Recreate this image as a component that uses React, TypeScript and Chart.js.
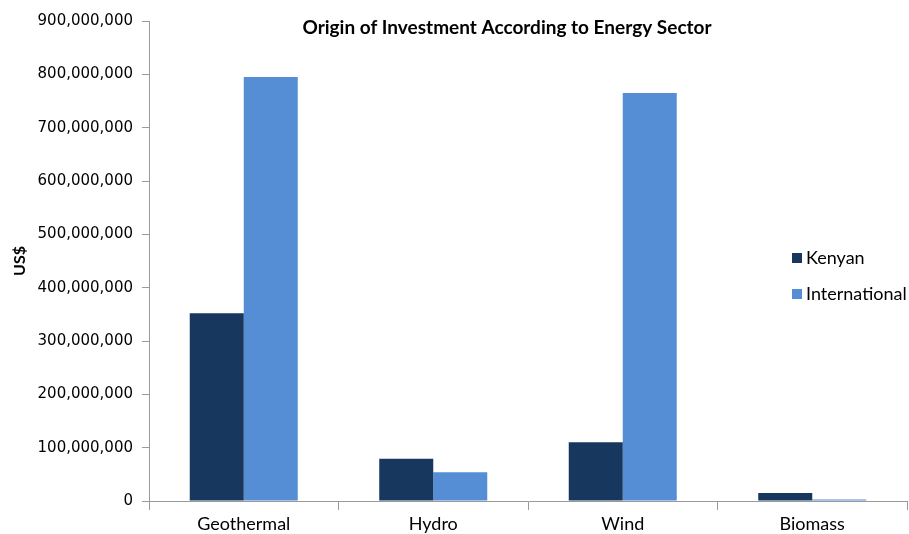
import React, { useEffect, useRef } from "react";
import { Chart, registerables } from "chart.js";

Chart.register(...registerables);

const categories = ["Geothermal", "Hydro", "Wind", "Biomass"];
const seriesNames = ["Kenyan", "International"];
const kenyan = [352000000, 79000000, 110000000, 15000000];
const international = [795000000, 54000000, 765000000, 3000000];
const seriesColors = ["#17375E", "#558ED5"];
const yMin = 0;
const yMax = 900000000;
const yStep = 100000000;
const titleText = "Origin of Investment According to Energy Sector";
const yTitle = "US$";

const titlePlugin = {
  id: "customTitle",
  afterDraw(chart: any) {
    const ctx = chart.ctx;
    ctx.save();
    ctx.font = "bold 19px Lato";
    ctx.fillStyle = "#000";
    ctx.textAlign = "center";
    ctx.textBaseline = "middle";
    ctx.fillText(titleText, 507, 28);
    ctx.restore();
  },
};

const legendPlugin = {
  id: "customLegend",
  afterDraw(chart: any) {
    const ctx = chart.ctx;
    ctx.save();
    ctx.font = "18px Lato";
    ctx.textBaseline = "middle";
    ctx.textAlign = "left";
    chart.data.datasets.forEach((ds: any, i: number) => {
      const cy = 258 + i * 36;
      ctx.fillStyle = ds.backgroundColor;
      ctx.fillRect(792, cy - 5, 10, 10);
      ctx.fillStyle = "#000";
      ctx.fillText(ds.label, 806, cy);
    });
    ctx.restore();
  },
};

export default function App() {
  const ref = useRef<HTMLCanvasElement>(null);
  useEffect(() => {
    if (!ref.current) return;
    const chart = new Chart(ref.current, {
      type: "bar",
      data: {
        labels: categories,
        datasets: [
          { label: seriesNames[0], data: kenyan, backgroundColor: seriesColors[0], borderWidth: 0 },
          { label: seriesNames[1], data: international, backgroundColor: seriesColors[1], borderWidth: 0 },
        ],
      },
      options: {
        animation: false,
        responsive: false,
        maintainAspectRatio: false,
        layout: { padding: { top: 21, right: 2, left: 0, bottom: 0 } },
        datasets: { bar: { barPercentage: 1, categoryPercentage: 0.57 } },
        plugins: {
          legend: { display: false },
          title: { display: false },
          tooltip: { enabled: false },
        },
        scales: {
          x: {
            grid: {
              offset: true,
              drawOnChartArea: false,
              drawTicks: true,
              tickLength: 9,
              color: "#9a9a9a",
            },
            border: { color: "#9a9a9a", width: 1 },
            ticks: {
              color: "#000",
              font: { family: "Lato", size: 18 },
              padding: 3,
            },
            afterFit: (scale: any) => {
              scale.height = 33;
            },
          },
          y: {
            min: yMin,
            max: yMax,
            grid: {
              drawOnChartArea: false,
              drawTicks: true,
              tickLength: 7,
              color: "#9a9a9a",
            },
            border: { color: "#9a9a9a", width: 1 },
            ticks: {
              stepSize: yStep,
              color: "#000",
              font: { family: "DejaVu Sans", size: 15 },
              padding: 9,
              callback: (v: any) => Number(v).toLocaleString("en-US"),
            },
            title: {
              display: true,
              text: yTitle,
              color: "#000",
              font: { family: "Lato", size: 16, weight: "bold" },
              padding: { top: 10, bottom: 0 },
            },
            afterFit: (scale: any) => {
              scale.width = 149;
            },
          },
        },
      },
      plugins: [titlePlugin, legendPlugin],
    });
    return () => chart.destroy();
  }, []);
  return (
    <div style={{ position: "fixed", left: 0, top: 0, width: 909, height: 534, background: "#fff" }}>
      <canvas ref={ref} width={909} height={534} style={{ width: 909, height: 534 }} />
    </div>
  );
}
